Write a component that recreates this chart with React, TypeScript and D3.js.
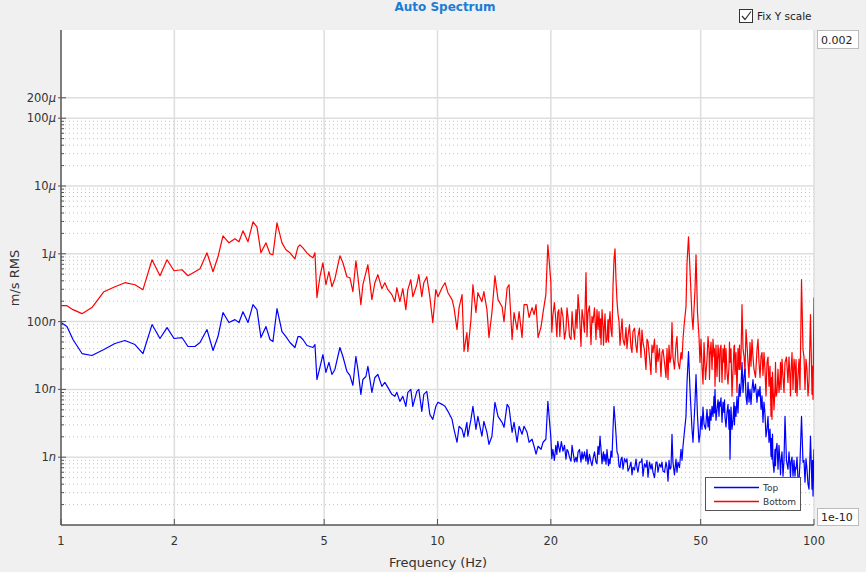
import React from 'react';
import * as d3 from 'd3';

// Frequency bins (Hz): trace vertices
const freqHz = [
  1.0, 1.037, 1.076, 1.137, 1.208, 1.3, 1.391, 1.478, 1.572, 1.651, 1.745, 1.832, 1.913, 1.996, 2.096, 2.174, 2.269, 2.34,
  2.442, 2.534, 2.612, 2.693, 2.793, 2.897, 2.97, 3.043, 3.138, 3.235, 3.315, 3.397, 3.503, 3.589, 3.655, 3.747, 3.863,
  3.958, 4.056, 4.182, 4.26, 4.312, 4.391, 4.5, 4.584, 4.669, 4.726, 4.784, 4.872, 4.962, 5.054, 5.148, 5.243, 5.34,
  5.505, 5.607, 5.746, 5.852, 5.96, 6.071, 6.146, 6.259, 6.336, 6.454, 6.533, 6.695, 6.818, 6.944, 7.116, 7.248, 7.382,
  7.564, 7.704, 7.798, 7.944, 8.09, 8.24, 8.341, 8.495, 8.6, 8.812, 8.92, 9.085, 9.197, 9.367, 9.541, 9.717, 9.897,
  10.03, 10.28, 10.47, 10.66, 10.93, 11.06, 11.27, 11.41, 11.62, 11.76, 11.97, 12.04, 12.27, 12.42, 12.65, 12.8, 13.12,
  13.28, 13.53, 13.7, 13.95, 14.21, 14.48, 14.84, 15.02, 15.31, 15.49, 15.78, 15.97, 16.27, 16.47, 16.77, 16.98, 17.29,
  17.51, 17.83, 18.05, 18.27, 18.5, 18.84, 19.07, 19.4, 19.64, 20.0, 20.25, 20.62, 20.87, 21.13, 21.54, 21.94, 22.22,
  22.63, 22.91, 23.33, 23.62, 24.05, 24.35, 24.8, 25.1, 25.57, 25.88, 26.36, 26.69, 27.02, 27.19, 27.52, 27.69, 28.03,
  28.37, 28.55, 28.89, 29.25, 29.43, 29.61, 29.98, 30.35, 30.72, 31.1, 31.67, 32.06, 32.65, 33.05, 33.67, 34.08, 34.71,
  35.14, 35.79, 36.23, 36.9, 37.35, 38.05, 38.52, 39.23, 39.71, 40.45, 40.95, 41.45, 41.96, 42.2, 43.0, 43.53, 44.34,
  44.88, 45.15, 45.71, 46.0, 46.42, 46.84, 47.42, 47.71, 48.3, 48.6, 49.04, 49.49, 49.79, 50.41, 51.04, 51.98, 52.62,
  52.94, 53.6, 54.25, 54.58, 55.26, 55.94, 56.28, 56.97, 57.68, 58.03, 58.74, 59.46, 59.83, 60.56, 61.3, 61.68, 62.44,
  63.21, 63.6, 64.38, 65.18, 65.98, 66.8, 67.61, 68.44, 69.28, 70.57, 71.44, 72.32, 73.2, 74.1, 75.02, 75.94, 76.88,
  77.35, 77.82, 78.78, 79.27, 80.24, 81.22, 81.72, 82.73, 83.75, 85.28, 86.36, 86.89, 87.95, 89.03, 89.58, 90.69, 91.8,
  92.65, 93.5, 94.65, 95.81, 96.99, 97.88, 98.79, 99.4, 100.0,
];

// "Top" sensor, nm/s RMS
const topNano = [
  96.8, 84.5, 54.4, 33.8, 31.6, 38.8, 47.5, 52.6, 45.9, 33.8, 90.4, 56.3, 81.7, 56.3, 58.2, 42.9, 42.9, 49.2,
  76.3, 37.5, 60.2, 136, 96.8, 107, 96.8, 140, 96.8, 178, 150, 58.2, 84.5, 54.4, 50.8, 155, 71.3,
  60.2, 49.2, 41.5, 60.2, 60.2, 54.4, 44.4, 42.9, 41.5, 45.9, 14.0, 21.1, 32.7, 17.8, 25.0, 16.6, 19.7,
  41.5, 30.6, 18.4, 16.1, 11.5, 30.6, 19.7, 8.45, 14.0, 15.5, 21.8, 9.04, 15.0, 16.6, 11.1, 12.7, 10.7,
  8.45, 7.9, 9.04, 6.67, 7.9, 5.63, 9.04, 10.0, 5.63, 9.36, 10.0, 4.75, 8.45, 9.36, 4.29, 3.62, 5.63,
  6.45, 6.02, 5.63, 4.75, 3.62, 2.58, 1.66, 2.86, 2.58, 1.97, 3.27, 2.04, 3.62, 5.63, 2.58, 4.01, 2.04,
  3.38, 2.33, 1.55, 2.04, 6.45, 4.01, 3.27, 2.76, 6.02, 5.44, 2.33, 3.27, 1.66, 2.86, 2.18, 2.86, 2.33,
  1.66, 1.84, 1.45, 1.11, 1.45, 1.31, 1.66, 1.84, 6.67, 1.97, 1.31, 1.5, 1.72, 1.19, 1.23, 0.936, 1.23,
  0.874, 1.19, 1.0, 1.19, 0.845, 0.936, 0.874, 0.79, 0.845, 0.936, 0.845, 1.45, 2.04, 1.31, 1.11, 0.874, 0.79,
  0.874, 0.936, 1.23, 2.58, 5.63, 3.62, 1.19, 0.738, 0.936, 0.667, 0.845, 0.623, 0.845, 0.713, 0.936, 0.602, 0.845,
  0.526, 0.713, 0.508, 0.667, 0.602, 0.845, 0.602, 0.713, 0.623, 0.845, 0.444, 0.667, 2.18, 0.845, 0.936, 0.845, 1.31,
  1.45, 2.04, 4.01, 12.7, 36.2, 10.0, 2.58, 1.66, 6.45, 16.6, 4.01, 1.66, 2.18, 2.58, 3.06, 5.08, 4.01,
  5.08, 5.63, 7.9, 10.0, 5.08, 4.01, 5.63, 3.27, 4.59, 3.88, 4.59, 2.58, 0.936, 2.58, 6.45, 5.63, 7.9,
  10.0, 7.9, 25.0, 15.5, 7.9, 12.7, 10.0, 10.0, 9.04, 6.45, 7.9, 5.08, 3.27, 4.29, 2.58, 1.66, 1.03,
  0.936, 0.845, 1.31, 1.31, 0.667, 0.845, 0.845, 0.526, 4.01, 0.667, 0.713, 0.845, 0.526, 0.526, 0.667, 0.475, 0.845,
  4.01, 0.845, 0.429, 0.667, 0.338, 2.04, 0.338, 0.267, 1.31,
];

// "Bottom" sensor, nm/s RMS
const bottomNano = [
  172, 172, 150, 131, 161, 276, 327, 375, 350, 296, 817, 475, 817, 563, 582, 475, 544, 602,
  1034, 544, 904, 1840, 1451, 1662, 1502, 2180, 1502, 2957, 2496, 1034, 1451, 1000, 968, 2858, 1451,
  1145, 1034, 845, 1267, 1356, 1225, 1034, 936, 874, 1034, 226, 459, 738, 350, 544, 327, 429,
  936, 738, 459, 444, 276, 790, 459, 178, 350, 526, 690, 211, 375, 492, 306, 375, 296,
  250, 197, 316, 197, 306, 150, 296, 415, 233, 350, 492, 233, 375, 459, 233, 96.8, 296,
  233, 316, 375, 267, 211, 161, 76.3, 161, 250, 36.2, 69.0, 36.2, 107, 350, 136, 267, 197,
  276, 150, 58.2, 136, 475, 211, 166, 100, 316, 350, 54.4, 136, 76.3, 140, 58.2, 178, 178,
  115, 161, 127, 178, 58.2, 84.5, 136, 250, 1356, 388, 123, 107, 136, 60.2, 118, 76.3, 115,
  54.4, 84.5, 150, 250, 42.9, 115, 526, 136, 45.9, 96.8, 54.4, 76.3, 58.2, 45.9, 84.5, 69.0, 49.2,
  107, 90.4, 76.3, 327, 817, 1185, 197, 100, 71.3, 54.4, 81.7, 60.2, 41.5, 71.3, 42.9, 60.2, 29.6,
  49.2, 19.7, 50.8, 16.6, 35.0, 17.8, 25.8, 15.5, 38.8, 15.0, 14.0, 25.0, 96.8, 30.6, 45.9, 25.8, 35.0,
  54.4, 84.5, 166, 738, 1779, 582, 118, 76.3, 296, 968, 136, 60.2, 25.0, 21.8, 49.2, 27.6, 38.8,
  30.6, 19.7, 30.6, 11.1, 15.5, 27.6, 38.8, 12.7, 25.0, 14.0, 17.8, 21.8, 25.0, 7.9, 42.9, 16.6, 9.04,
  19.7, 19.7, 178, 30.6, 76.3, 25.0, 49.2, 54.4, 19.7, 38.8, 25.0, 30.6, 16.1, 19.7, 25.0, 11.1, 4.01,
  3.62, 11.1, 11.1, 7.9, 19.7, 14.0, 10.0, 15.5, 25.0, 12.7, 14.0, 17.8, 10.0, 19.7, 27.6, 15.5, 10.0,
  415, 38.8, 10.0, 19.7, 12.7, 127, 8.45, 7.13, 226,
];

const bandHz = [
  20.12, 20.44, 20.75, 21.0, 21.33, 21.74, 22.08, 22.42, 22.77, 23.12, 23.47, 23.83, 24.2, 24.57, 24.95, 25.33, 25.72,
  26.12, 26.52, 26.85, 27.1, 27.35, 27.6, 27.86, 28.2, 28.46, 28.72, 29.07, 29.79, 30.16, 30.53, 30.91, 31.38, 31.86,
  32.35, 32.85, 33.36, 33.87, 34.39, 34.92, 35.46, 36.01, 36.56, 37.12, 37.7, 38.28, 38.87, 39.47, 40.08, 40.7, 41.2,
  41.7, 42.6, 43.26, 43.93, 44.61, 50.1, 50.72, 51.51, 52.3, 52.78, 53.27, 53.92, 54.41, 54.92, 55.6, 56.11, 56.62,
  57.32, 57.85, 58.38, 59.1, 59.64, 60.19, 60.93, 61.49, 62.06, 62.82, 63.4, 63.99, 64.78, 65.58, 66.39, 67.2, 68.02,
  68.86, 69.92, 71.0, 71.88, 72.76, 73.65, 74.56, 75.48, 76.41, 77.11, 77.58, 78.3, 79.02, 79.75, 80.73, 81.47, 82.22,
  83.24, 84.5, 85.82, 86.62, 87.42, 88.49, 89.3, 90.13, 91.24, 94.07, 95.23, 96.4, 99.1,
];

const bandTopNano = [
  0.95, 0.9, 1.1, 1.4, 1.7, 1.5, 1.3, 1.0, 1.5, 0.85, 0.85, 1.3, 1.2, 1.2, 1.3, 1.1, 0.75,
  1.2, 0.8, 1.1, 1.6, 0.8, 1.2, 1.1, 1.3, 0.75, 0.8, 1.0, 2.2, 1.1, 0.7, 1.0, 0.95, 0.95,
  0.7, 0.55, 0.65, 0.7, 0.85, 0.95, 0.8, 0.9, 0.85, 0.8, 0.5, 0.85, 0.8, 0.85, 0.6, 0.7, 0.9,
  0.7, 0.55, 0.6, 0.7, 0.9, 4.0, 5.5, 2.6, 2.8, 2.5, 3.5, 4.0, 4.5, 3.5, 7.0, 6.5, 7.5,
  6.5, 7.0, 2.8, 6.0, 5.0, 5.5, 3.5, 3.0, 4.0, 4.5, 12, 11, 9, 20, 6, 6.5, 6.0,
  14, 12, 10, 11, 8, 6.5, 2.0, 4.0, 2.6, 1.9, 2.2, 0.6, 0.75, 1.6, 1.5, 0.55, 1.2,
  0.9, 0.9, 1.2, 0.5, 1.0, 0.9, 0.7, 1.0, 0.45, 0.9, 0.95, 0.4, 0.9,
];

const bandBottomNano = [
  70, 190, 60, 150, 160, 55, 160, 60, 140, 55, 80, 130, 150, 70, 60, 170, 120,
  160, 150, 140, 110, 150, 45, 130, 55, 50, 140, 60, 420, 130, 45, 110, 45, 40,
  90, 35, 80, 35, 80, 75, 38, 55, 30, 45, 55, 45, 40, 35, 25, 40, 45,
  30, 20, 60, 20, 28, 55, 12, 14, 60, 14, 50, 55, 40, 45, 45, 13, 45,
  40, 45, 40, 12, 50, 40, 18, 45, 35, 40, 45, 30, 40, 18, 45, 15, 22,
  30, 15, 55, 15, 35, 35, 8, 30, 22, 15, 18, 5, 25, 9, 9, 25, 28,
  9, 30, 30, 8, 35, 28, 9, 8, 28, 30, 28, 8, 22,
];

const xTicks = [1, 2, 5, 10, 20, 50, 100];
const xTickLabels = ['1', '2', '5', '10', '20', '50', '100'];
const yTicks = [2e-4, 1e-4, 1e-5, 1e-6, 1e-7, 1e-8, 1e-9];
const yTickNumbers = ['200', '100', '10', '1', '100', '10', '1'];
const yTickUnits = ['μ', 'μ', 'μ', 'μ', 'n', 'n', 'n'];
const minorDecades = [-10, -9, -8, -7, -6, -5];
const seriesNames = ['Top', 'Bottom'];
const seriesColors = ['#0000ff', '#ff0000'];

const W = 866;
const H = 572;
const plot = { left: 61, right: 814, top: 30, bottom: 525 };
const font = '"DejaVu Sans", sans-serif';

type Pt = { f: number; v: number };

function mergeSeries(mainVals: number[], bandVals: number[]): Pt[] {
  const pts: Pt[] = freqHz.map((f, i) => ({ f, v: mainVals[i] * 1e-9 }));
  bandHz.forEach((f, i) => pts.push({ f, v: bandVals[i] * 1e-9 }));
  return pts.sort((a, b) => a.f - b.f);
}

export default function App() {
  const x = d3.scaleLog().domain([1, 100]).range([plot.left, plot.right]);
  const y = d3.scaleLog().domain([1e-10, 0.002]).range([plot.bottom, plot.top]);

  const line = d3
    .line<Pt>()
    .x((d) => x(d.f))
    .y((d) => y(d.v));

  const topPts = mergeSeries(topNano, bandTopNano);
  const bottomPts = mergeSeries(bottomNano, bandBottomNano);

  const minorVals: number[] = [];
  minorDecades.forEach((e) => {
    for (let k = 2; k <= 9; k++) minorVals.push(k * Math.pow(10, e));
  });

  return (
    <svg
      width={W}
      height={H}
      style={{ position: 'absolute', left: 0, top: 0, background: '#f0f0f0' }}
      fontFamily={font}
    >
      <defs>
        <clipPath id="plotClip">
          <rect x={plot.left} y={plot.top} width={plot.right - plot.left} height={plot.bottom - plot.top} />
        </clipPath>
      </defs>

      {/* title */}
      <text x={445} y={11} textAnchor="middle" fontSize={12} fontWeight="bold" fill="#1c7cd5">
        Auto Spectrum
      </text>

      {/* Fix Y scale checkbox */}
      <rect x={739.5} y={9.5} width={13} height={13} fill="#fff" stroke="#333" />
      <path d="M742 16 L745 19.5 L751 11.5" fill="none" stroke="#333" strokeWidth={1.2} />
      <text x={757} y={20} fontSize={10.5} fill="#222">
        Fix Y scale
      </text>

      {/* plot background */}
      <rect x={plot.left} y={plot.top} width={plot.right - plot.left} height={plot.bottom - plot.top} fill="#fff" />

      {/* minor dotted grid */}
      {minorVals.map((v, i) => (
        <line
          key={'mg' + i}
          x1={plot.left}
          x2={plot.right}
          y1={y(v)}
          y2={y(v)}
          stroke="#c4c4c4"
          strokeWidth={1}
          strokeDasharray="1,3"
        />
      ))}

      {/* major grid */}
      {yTicks.map((v, i) => (
        <line key={'gy' + i} x1={plot.left} x2={plot.right} y1={y(v)} y2={y(v)} stroke="#dedede" strokeWidth={1.5} />
      ))}
      {xTicks.slice(1).map((f, i) => (
        <line key={'gx' + i} x1={x(f)} x2={x(f)} y1={plot.top} y2={plot.bottom} stroke="#dedede" strokeWidth={1.5} />
      ))}

      {/* series */}
      <g clipPath="url(#plotClip)" fill="none" strokeWidth={1.2} strokeLinejoin="round">
        <path d={line(bottomPts) || ''} stroke={seriesColors[1]} />
        <path d={line(topPts) || ''} stroke={seriesColors[0]} />
      </g>

      {/* axes */}
      <line x1={plot.left} x2={plot.left} y1={plot.top} y2={plot.bottom} stroke="#555" strokeWidth={1.5} />
      <line x1={plot.left} x2={plot.right} y1={plot.bottom} y2={plot.bottom} stroke="#555" strokeWidth={1.5} />

      {minorVals.map((v, i) => (
        <line key={'mt' + i} x1={plot.left} x2={plot.left + 3} y1={y(v)} y2={y(v)} stroke="#555" />
      ))}
      {yTicks.map((v, i) => (
        <g key={'yt' + i}>
          <line x1={plot.left - 3} x2={plot.left + 5} y1={y(v)} y2={y(v)} stroke="#555" />
          <text x={plot.left - 5} y={y(v)} textAnchor="end" dominantBaseline="central" fontSize={11.5} fill="#333">
            {yTickNumbers[i]}
            <tspan fontStyle="italic">{yTickUnits[i]}</tspan>
          </text>
        </g>
      ))}
      {xTicks.map((f, i) => (
        <g key={'xt' + i}>
          <line x1={x(f)} x2={x(f)} y1={plot.bottom} y2={plot.bottom - 6} stroke="#555" />
          <text x={x(f)} y={541} textAnchor="middle" dominantBaseline="central" fontSize={11.5} fill="#333">
            {xTickLabels[i]}
          </text>
        </g>
      ))}

      {/* axis titles */}
      <text x={438} y={562} textAnchor="middle" dominantBaseline="central" fontSize={13} fill="#333">
        Frequency (Hz)
      </text>
      <text
        transform="translate(14,278) rotate(-90)"
        textAnchor="middle"
        dominantBaseline="central"
        fontSize={13}
        fill="#333"
      >
        m/s RMS
      </text>

      {/* Y range boxes */}
      <rect x={817.5} y={30.5} width={41} height={18} fill="#fff" stroke="#bbb" />
      <text x={821} y={40} dominantBaseline="central" fontSize={11} fill="#222">
        0.002
      </text>
      <rect x={817.5} y={508.5} width={41} height={17} fill="#fff" stroke="#bbb" />
      <text x={821} y={517.5} dominantBaseline="central" fontSize={11} fill="#222">
        1e-10
      </text>

      {/* legend */}
      <rect x={705.5} y={477.5} width={95} height={33} fill="#fff" stroke="#555" />
      {seriesNames.map((name, i) => (
        <g key={name}>
          <line x1={714} x2={759} y1={487.5 + i * 14} y2={487.5 + i * 14} stroke={seriesColors[i]} strokeWidth={1.5} />
          <text x={763} y={487.5 + i * 14} dominantBaseline="central" fontSize={9} fill="#333">
            {name}
          </text>
        </g>
      ))}
    </svg>
  );
}
